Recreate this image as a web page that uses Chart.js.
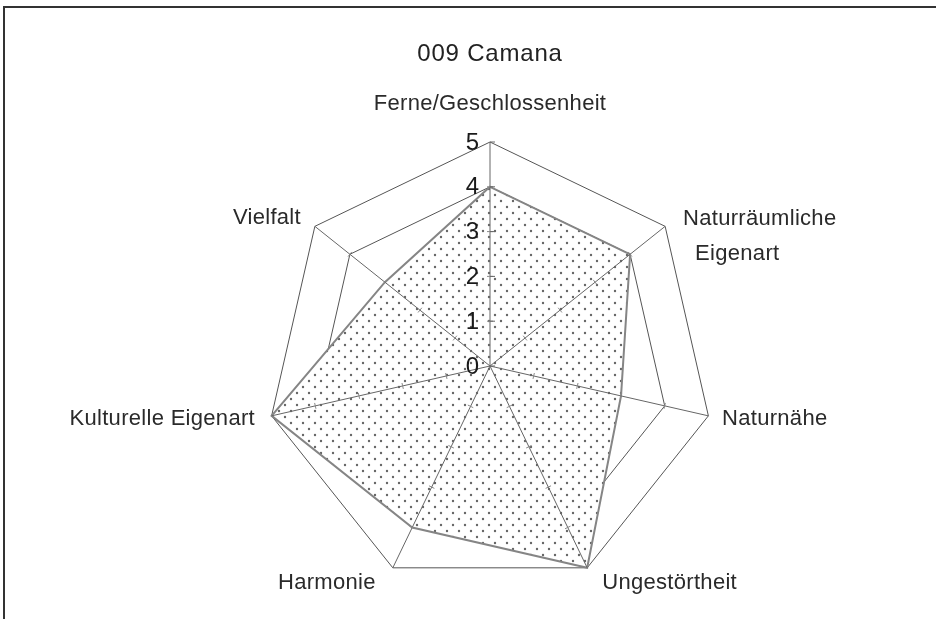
<!DOCTYPE html>
<html lang="de">
<head>
<meta charset="utf-8">
<title>009 Camana</title>
<script src="https://cdn.jsdelivr.net/npm/chart.js@4.4.1/dist/chart.umd.min.js"></script>
<style>
    body { margin: 0; background: #fff; }
    #rahmen { position: relative; width: 936px; height: 619px; }
    #rahmen .linieOben { position: absolute; left: 3px; right: 0; top: 6px; height: 2px; background: #333; }
    #rahmen .linieLinks { position: absolute; left: 3px; top: 6px; bottom: 0; width: 2px; background: #333; }
    canvas { display: block; }
</style>
</head>
<body>
<div id="rahmen">
    <canvas id="netzGrafik" width="936" height="619"></canvas>
    <div class="linieOben"></div>
    <div class="linieLinks"></div>
</div>
<script>
const titel = "009 Camana";
const kategorien = ["Ferne/Geschlossenheit", ["Naturräumliche", "Eigenart"], "Naturnähe", "Ungestörtheit", "Harmonie", "Kulturelle Eigenart", "Vielfalt"];
const werte = [4, 4, 3, 5, 4, 5, 3];
const skalaWerte = [0, 1, 2, 3, 4, 5];

const schrift = "'Liberation Sans', Arial, sans-serif";
Chart.defaults.font.family = schrift;

const leinwand = document.getElementById("netzGrafik");
const ctx = leinwand.getContext("2d");

// Punktraster als Füllung (weiß, deckend)
const kachel = document.createElement("canvas");
kachel.width = 12;
kachel.height = 12;
const k = kachel.getContext("2d");
k.fillStyle = "#fff";
k.fillRect(0, 0, 12, 12);
k.fillStyle = "#666";
[[3, 3], [9, 9]].forEach(([x, y]) => {
    k.beginPath();
    k.arc(x, y, 1.2, 0, Math.PI * 2);
    k.fill();
});
const punktMuster = ctx.createPattern(kachel, "repeat");

// etwas gesperrte Schrift für den Titel
const sperrPlugin = {
    id: "sperrung",
    beforeDraw(chart) {
        chart.ctx.letterSpacing = "0.8px";
    }
};

// Achsen, Teilstriche und Beschriftungen über der Füllung
const achsenPlugin = {
    id: "achsen",
    afterDatasetsDraw(chart) {
        const r = chart.scales.r;
        const c = chart.ctx;
        const max = skalaWerte[skalaWerte.length - 1];
        c.save();

        kategorien.forEach((_, i) => {
            const ende = r.getPointPositionForValue(i, max);
            c.strokeStyle = "#666";
            c.lineWidth = 1;
            c.beginPath();
            c.moveTo(r.xCenter, r.yCenter);
            c.lineTo(ende.x, ende.y);
            c.stroke();

            const winkel = r.getIndexAngle(i);
            const nx = Math.cos(winkel), ny = Math.sin(winkel);
            skalaWerte.slice(1, -1).forEach(v => {
                const p = r.getPointPositionForValue(i, v);
                c.strokeStyle = "#888";
                c.beginPath();
                c.moveTo(p.x - nx * 3, p.y - ny * 3);
                c.lineTo(p.x + nx * 3, p.y + ny * 3);
                c.stroke();
            });
        });

        // Skalenzahlen auf der ersten Achse
        c.letterSpacing = "0px";
        c.fillStyle = "#1a1a1a";
        c.font = "24px " + schrift;
        c.textAlign = "right";
        c.textBaseline = "middle";
        skalaWerte.forEach(v => {
            const p = r.getPointPositionForValue(0, v);
            c.fillText(String(v), p.x - 11, p.y + 1);
            c.strokeStyle = "#666";
            c.beginPath();
            c.moveTo(p.x, p.y);
            c.lineTo(p.x + 5, p.y);
            c.stroke();
        });

        // Kategorienamen
        c.letterSpacing = "0.3px";
        c.font = "22px " + schrift;
        c.fillStyle = "#2a2a2a";
        kategorien.forEach((name, i) => {
            const winkel = r.getIndexAngle(i);
            const s = Math.sin(winkel), co = Math.cos(winkel);
            const zeilen = Array.isArray(name) ? name : [name];
            let abstand = 14;
            if (co > 0.99) abstand = 38;
            const p = r.getPointPosition(i, r.drawingArea + abstand);
            let x = p.x, y = p.y;
            if (co < -0.5) {
                x += (s > 0 ? 9 : -8);
                y += 3;
            }
            if (s < -0.1) x -= 3;
            c.textAlign = s > 0.1 ? "left" : (s < -0.1 ? "right" : "center");
            c.textBaseline = "middle";
            if (zeilen.length > 1) {
                y = p.y + 1;
            }
            zeilen.forEach((z, j) => {
                c.fillText(z, x + (j > 0 ? 19 : 7 * (zeilen.length > 1)), y + j * 35);
            });
        });
        c.restore();
    }
};

new Chart(ctx, {
    type: "radar",
    data: {
        labels: kategorien,
        datasets: [{
            data: werte,
            backgroundColor: punktMuster,
            borderColor: "#858585",
            borderWidth: 2,
            pointRadius: 0,
            fill: true
        }]
    },
    options: {
        responsive: false,
        animation: false,
        layout: { padding: { left: 266, right: 222, top: 0, bottom: 28 } },
        plugins: {
            legend: { display: false },
            tooltip: { enabled: false },
            title: {
                display: true,
                text: titel,
                color: "#222",
                font: { size: 24, weight: "normal", family: schrift },
                padding: { top: 40, bottom: 74 }
            }
        },
        scales: {
            r: {
                min: 0,
                max: 5,
                ticks: { display: false, stepSize: 1 },
                grid: { color: "#555", lineWidth: 1 },
                angleLines: { display: false },
                pointLabels: { display: false }
            }
        }
    },
    plugins: [sperrPlugin, achsenPlugin]
});
</script>
</body>
</html>
